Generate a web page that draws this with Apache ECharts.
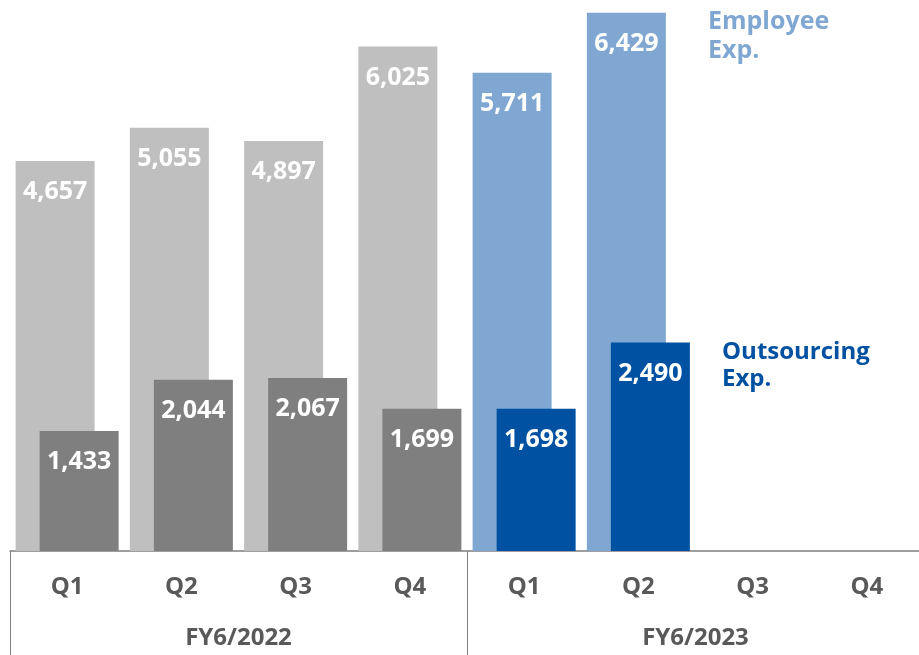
<!DOCTYPE html>
<html>
<head>
<meta charset="utf-8">
<script src="https://cdn.jsdelivr.net/npm/echarts@6/dist/echarts.min.js"></script>
<style>
  html, body { margin: 0; padding: 0; background: #ffffff; }
  #chart { width: 919px; height: 655px; }
</style>
</head>
<body>
<div id="chart"></div>
<script>
// Quarterly expenses (million yen)
const quarters = ['Q1', 'Q2', 'Q3', 'Q4', 'Q1', 'Q2', 'Q3', 'Q4'];
const fiscalYears = ['FY6/2022', 'FY6/2023'];
const employeeExp = [4657, 5055, 4897, 6025, 5711, 6429, null, null];
const outsourcingExp = [1433, 2044, 2067, 1699, 1698, 2490, null, null];
const seriesNames = ['Employee\nExp.', 'Outsourcing\nExp.'];

const FONT = '"Open Sans", "Liberation Sans", sans-serif';
const PRIOR_YEAR_COUNT = 4; // first four quarters belong to FY6/2022

const palette = {
  employeePrior: '#bfbfbf',
  outsourcingPrior: '#7f7f7f',
  employee: '#7fa7d2',
  outsourcing: '#0051a2'
};

const valueLabel = {
  show: true,
  position: ['50%', 31],
  align: 'center',
  verticalAlign: 'middle',
  color: '#ffffff',
  fontFamily: FONT,
  fontWeight: 'bold',
  fontSize: 25,
  formatter: p => p.value == null ? '' : p.value.toLocaleString('en-US')
};

const chart = echarts.init(document.getElementById('chart'), null, { renderer: 'canvas' });

chart.setOption({
  animation: false,
  // the plot runs slightly past the right edge so that eight bands are 114px wide
  grid: { left: 10, width: 914, top: 0, bottom: 104, containLabel: false, outerBoundsMode: 'none' },
  xAxis: [
    {
      type: 'category',
      data: quarters,
      position: 'bottom',
      axisLine: { show: true, lineStyle: { color: '#7f7f7f', width: 1.5 } },
      axisTick: { show: false },
      axisLabel: {
        interval: 0,
        margin: 24,
        color: '#595959',
        fontFamily: FONT,
        fontWeight: 'bold',
        fontSize: 24
      }
    },
    {
      type: 'category',
      data: fiscalYears,
      position: 'bottom',
      axisLine: { show: false },
      axisTick: { show: true, length: 110, lineStyle: { color: '#7f7f7f', width: 1 } },
      axisLabel: {
        interval: 0,
        margin: 75,
        color: '#595959',
        fontFamily: FONT,
        fontWeight: 'bold',
        fontSize: 24
      }
    }
  ],
  yAxis: {
    type: 'value',
    min: 0,
    max: 6580,
    show: false,
    splitLine: { show: false }
  },
  series: [
    {
      name: 'Employee Exp.',
      type: 'bar',
      xAxisIndex: 0,
      data: employeeExp,
      barWidth: 79,
      barGap: '-69.6%',
      itemStyle: {
        color: p => p.dataIndex < PRIOR_YEAR_COUNT ? palette.employeePrior : palette.employee
      },
      label: valueLabel,
      z: 2
    },
    {
      name: 'Outsourcing Exp.',
      type: 'bar',
      xAxisIndex: 0,
      data: outsourcingExp,
      barWidth: 79,
      itemStyle: {
        color: p => p.dataIndex < PRIOR_YEAR_COUNT ? palette.outsourcingPrior : palette.outsourcing
      },
      label: valueLabel,
      z: 3
    }
  ],
  graphic: [
    {
      type: 'text',
      left: 708,
      top: 7,
      style: {
        text: seriesNames[0],
        fill: palette.employee,
        fontFamily: FONT,
        fontWeight: 'bold',
        fontSize: 25,
        lineHeight: 29
      }
    },
    {
      type: 'text',
      left: 722,
      top: 339,
      style: {
        text: seriesNames[1],
        fill: palette.outsourcing,
        fontFamily: FONT,
        fontWeight: 'bold',
        fontSize: 24,
        lineHeight: 27
      }
    }
  ]
});
</script>
</body>
</html>
